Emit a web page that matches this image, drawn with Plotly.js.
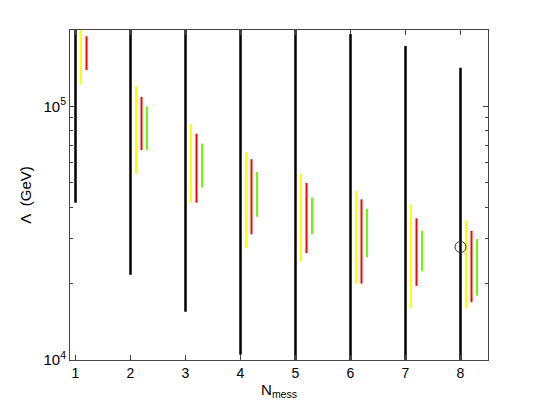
<!DOCTYPE html>
<html>
<head>
<meta charset="utf-8">
<script src="https://cdn.plot.ly/plotly-3.0.1.min.js"></script>
<style>
body { margin: 0; background: #fff; }
#plot { width: 540px; height: 405px; }
</style>
</head>
<body>
<div id="plot"></div>
<script>
// messenger number
var nMess = [1, 2, 3, 4, 5, 6, 7, 8];

// Lambda ranges (GeV), low / high ends of each bar
var blackLow  = [41700, 21700, 15500, 10500, 10000, 10000, 10000, 10000];
var blackHigh = [250000, 250000, 250000, 250000, 250000, 193000, 173000, 142000];

var yellowLow  = [122000, 54100, 41700, 27600, 24400, 20000, 16000, 16000];
var yellowHigh = [250000, 120000, 85100, 65900, 54200, 46400, 41000, 35500];

var redLow  = [139000, 67300, 41700, 31300, 26400, 20000, 19600, 16900];
var redHigh = [189000, 109000, 78000, 61900, 49900, 43000, 36200, 32300];

var greenLow  = [null, 67300, 48000, 36700, 31300, 25400, 22400, 17900];
var greenHigh = [null, 100000, 71400, 55100, 43700, 39500, 32300, 30000];

// single marked point
var pointN = [8];
var pointLambda = [27900];

var yMajor = [1e4, 1e5];
var yMajorText = ['10<sup>4</sup>', '10<sup>5</sup>'];
var yMinor = [2e4, 3e4, 4e4, 5e4, 6e4, 7e4, 8e4, 9e4, 2e5];

// turn low/high arrays into one trace of vertical segments
function bars(offset, lo, hi, color, width) {
  var xs = [], ys = [];
  for (var i = 0; i < nMess.length; i++) {
    if (lo[i] == null) continue;
    xs.push(nMess[i] + offset, nMess[i] + offset, null);
    ys.push(lo[i], hi[i], null);
  }
  return {
    x: xs, y: ys, type: 'scatter', mode: 'lines',
    line: {color: color, width: width},
    hoverinfo: 'skip'
  };
}

var data = [
  bars(0.0, blackLow, blackHigh, '#000000', 2.5),
  bars(0.1, yellowLow, yellowHigh, '#ffff00', 2),
  bars(0.2, redLow, redHigh, '#ff0000', 2),
  bars(0.3, greenLow, greenHigh, '#66ff00', 2),
  {
    x: pointN, y: pointLambda, type: 'scatter', mode: 'markers',
    marker: {symbol: 'circle-open', size: 11, color: '#333', line: {width: 1}}
  }
];

var font = '"Liberation Sans", Arial, Helvetica, sans-serif';

var layout = {
  width: 540, height: 405,
  margin: {l: 70, r: 52, t: 30, b: 45},
  paper_bgcolor: '#fff', plot_bgcolor: '#fff',
  showlegend: false,
  font: {family: font, size: 14, color: '#000'},
  xaxis: {
    range: [0.9, 8.5],
    tickmode: 'array', tickvals: nMess,
    ticks: 'inside', ticklen: 5, tickcolor: '#444',
    showline: true, linecolor: '#444', linewidth: 1, mirror: 'ticks',
    showgrid: false, zeroline: false,
    tickfont: {family: font, size: 14},
    title: {text: 'N<sub>mess</sub>', font: {family: font, size: 15}, standoff: 0}
  },
  yaxis: {
    type: 'log',
    range: [4, Math.log10(2e5)],
    tickmode: 'array', tickvals: yMajor, ticktext: yMajorText,
    ticks: 'inside', ticklen: 5, tickcolor: '#444',
    minor: {tickmode: 'array', tickvals: yMinor, ticks: 'inside', ticklen: 3, tickcolor: '#444', showgrid: false},
    showline: true, linecolor: '#444', linewidth: 1, mirror: 'ticks',
    showgrid: false, zeroline: false,
    tickfont: {family: font, size: 15},
    title: {text: '\u039b  (GeV)', font: {family: font, size: 15}, standoff: 8}
  }
};

Plotly.newPlot('plot', data, layout, {staticPlot: true, displayModeBar: false});
</script>
</body>
</html>
